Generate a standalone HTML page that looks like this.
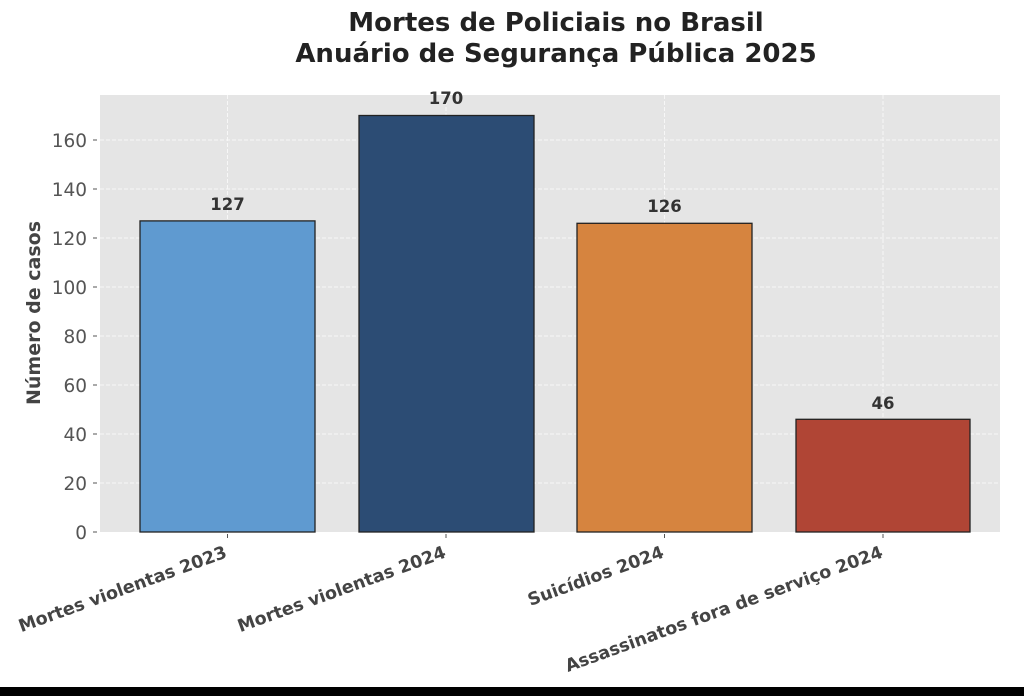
<!DOCTYPE html>
<html><head><meta charset="utf-8"><style>
html,body{margin:0;padding:0;background:#fff;}
svg{display:block;font-family:"DejaVu Sans","Liberation Sans",sans-serif;}
</style></head><body>
<svg width="1024" height="696" viewBox="0 0 1024 696">
<rect x="0" y="0" width="1024" height="696" fill="#fff"/>
<text x="556" y="31" text-anchor="middle" font-size="26" font-weight="bold" fill="#222">Mortes de Policiais no Brasil</text>
<text x="556" y="62" text-anchor="middle" font-size="26" font-weight="bold" fill="#222">Anuário de Segurança Pública 2025</text>
<rect x="100" y="95" width="900" height="437" fill="#e5e5e5"/>
<g stroke="#fff" stroke-width="1" stroke-dasharray="4,2" opacity="0.7">
<line x1="100" x2="1000" y1="483" y2="483"/><line x1="100" x2="1000" y1="434" y2="434"/>
<line x1="100" x2="1000" y1="385" y2="385"/><line x1="100" x2="1000" y1="336" y2="336"/>
<line x1="100" x2="1000" y1="287" y2="287"/><line x1="100" x2="1000" y1="238" y2="238"/>
<line x1="100" x2="1000" y1="189" y2="189"/><line x1="100" x2="1000" y1="140" y2="140"/>
<line x1="227.5" x2="227.5" y1="95" y2="532"/><line x1="446" x2="446" y1="95" y2="532"/>
<line x1="664.5" x2="664.5" y1="95" y2="532"/><line x1="883" x2="883" y1="95" y2="532"/>
</g>
<g stroke="#222" stroke-width="1.3">
<rect x="140" y="220.9" width="175" height="311.1" fill="#5f9ad0"/>
<rect x="359" y="115.5" width="175" height="416.5" fill="#2c4c74"/>
<rect x="577" y="223.3" width="175" height="308.7" fill="#d6843f"/>
<rect x="796" y="419.3" width="174" height="112.7" fill="#b04535"/>
</g>
<g font-size="16.5" font-weight="bold" fill="#333" text-anchor="middle">
<text x="227.5" y="210">127</text><text x="446" y="104">170</text>
<text x="664.5" y="212">126</text><text x="883" y="409">46</text>
</g>
<g font-size="18.5" fill="#555" text-anchor="end">
<text x="87" y="539">0</text><text x="87" y="490">20</text><text x="87" y="441">40</text>
<text x="87" y="392">60</text><text x="87" y="343">80</text><text x="87" y="294">100</text>
<text x="87" y="245">120</text><text x="87" y="196">140</text><text x="87" y="147">160</text>
</g>
<g stroke="#555" stroke-width="1">
<line x1="93" x2="97" y1="532" y2="532"/><line x1="93" x2="97" y1="483" y2="483"/>
<line x1="93" x2="97" y1="434" y2="434"/><line x1="93" x2="97" y1="385" y2="385"/>
<line x1="93" x2="97" y1="336" y2="336"/><line x1="93" x2="97" y1="287" y2="287"/>
<line x1="93" x2="97" y1="238" y2="238"/><line x1="93" x2="97" y1="189" y2="189"/>
<line x1="93" x2="97" y1="140" y2="140"/>
<line x1="227.5" x2="227.5" y1="534" y2="538"/><line x1="446" x2="446" y1="534" y2="538"/>
<line x1="664.5" x2="664.5" y1="534" y2="538"/><line x1="883" x2="883" y1="534" y2="538"/>
</g>
<text transform="translate(40,313) rotate(-90)" text-anchor="middle" font-size="19" font-weight="bold" fill="#444">Número de casos</text>
<g font-size="17.5" font-weight="bold" fill="#444" text-anchor="end">
<text transform="translate(228,557) rotate(-20)">Mortes violentas 2023</text>
<text transform="translate(447,557) rotate(-20)">Mortes violentas 2024</text>
<text transform="translate(665,557) rotate(-20)">Suicídios 2024</text>
<text transform="translate(884,557) rotate(-20)">Assassinatos fora de serviço 2024</text>
</g>
<rect x="0" y="687" width="1024" height="9" fill="#000"/>
</svg>
</body></html>
